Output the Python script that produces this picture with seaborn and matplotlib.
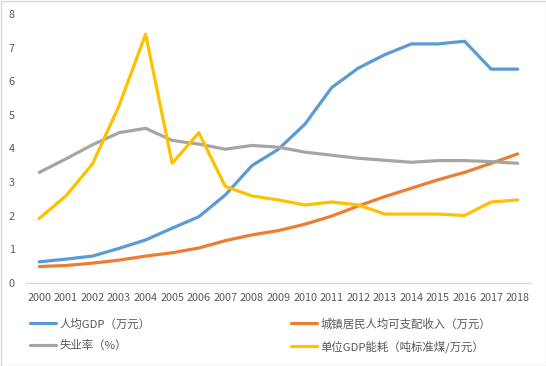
import matplotlib
matplotlib.use("Agg")
import matplotlib.pyplot as plt
import seaborn as sns
import pandas as pd
from matplotlib.patches import Rectangle

years = list(range(2000, 2019))
gdp_per_capita = [0.63, 0.71, 0.80, 1.03, 1.28, 1.63, 1.97, 2.62, 3.49, 3.98, 4.73, 5.81,
                  6.39, 6.79, 7.11, 7.11, 7.19, 6.36, 6.36]
urban_income = [0.49, 0.52, 0.59, 0.68, 0.80, 0.90, 1.04, 1.26, 1.43, 1.56, 1.75, 1.99,
                2.29, 2.57, 2.82, 3.07, 3.29, 3.56, 3.84]
unemployment = [3.29, 3.69, 4.11, 4.47, 4.60, 4.24, 4.13, 3.98, 4.09, 4.04, 3.89, 3.80,
                3.71, 3.65, 3.59, 3.64, 3.64, 3.61, 3.56]
energy_per_gdp = [1.92, 2.59, 3.54, 5.27, 7.40, 3.56, 4.47, 2.87, 2.59, 2.47, 2.32, 2.41,
                  2.32, 2.05, 2.05, 2.05, 2.01, 2.41, 2.47]
series_names = ["人均GDP（万元）", "城镇居民人均可支配收入（万元）", "失业率（%）", "单位GDP能耗（吨标准煤/万元）"]
colors = ["#5B9BD5", "#ED7D31", "#A5A5A5", "#FFC000"]

frames = []
for name, vals in zip(series_names, [gdp_per_capita, urban_income, unemployment, energy_per_gdp]):
    frames.append(pd.DataFrame({"year": years, "value": vals, "series": name}))
df = pd.concat(frames, ignore_index=True)

sns.set_theme(style="white")
plt.rcParams['font.family'] = ['Noto Sans CJK SC', 'DejaVu Sans']

fig = plt.figure(figsize=(5.46, 3.66), dpi=100)
ax = fig.add_axes([26/546, 1-283/366, (531-26)/546, (283-14)/366])

sns.lineplot(data=df, x="year", y="value", hue="series", hue_order=series_names,
             palette=colors, linewidth=2.3, ax=ax, legend=False)

ax.set_xlim(1999.5, 2018.5)
ax.set_ylim(0, 8)
ax.set_xticks(years)
ax.set_xticklabels([str(y) for y in years])
ax.set_yticks(range(0, 9))
ax.set_xlabel("")
ax.set_ylabel("")
for s in ["top", "right", "left"]:
    ax.spines[s].set_visible(False)
ax.spines["bottom"].set_color("#D9D9D9")
ax.spines["bottom"].set_linewidth(1)
ax.tick_params(axis="both", length=0, labelsize=7.8, colors="#595959", pad=7)
ax.tick_params(axis="y", pad=8)

handles = ax.get_lines()[:4]
order = [0, 2, 1, 3]
leg = fig.legend([handles[i] for i in order], [series_names[i] for i in order],
                 ncol=2, loc="upper left", bbox_to_anchor=(30/546, 1-318/366),
                 bbox_transform=fig.transFigure, frameon=False, fontsize=8.2,
                 handlelength=2.3, handletextpad=0.3, columnspacing=12.3,
                 labelspacing=0.95, borderpad=0, borderaxespad=0)
for t in leg.get_texts():
    t.set_color("#595959")

fig.patches.append(Rectangle((0.5/546, 0.5/366), 1-1/546, 1-1/366, transform=fig.transFigure,
                             fill=False, edgecolor="#D9D9D9", linewidth=1))

fig.savefig("out.png", dpi=100)
